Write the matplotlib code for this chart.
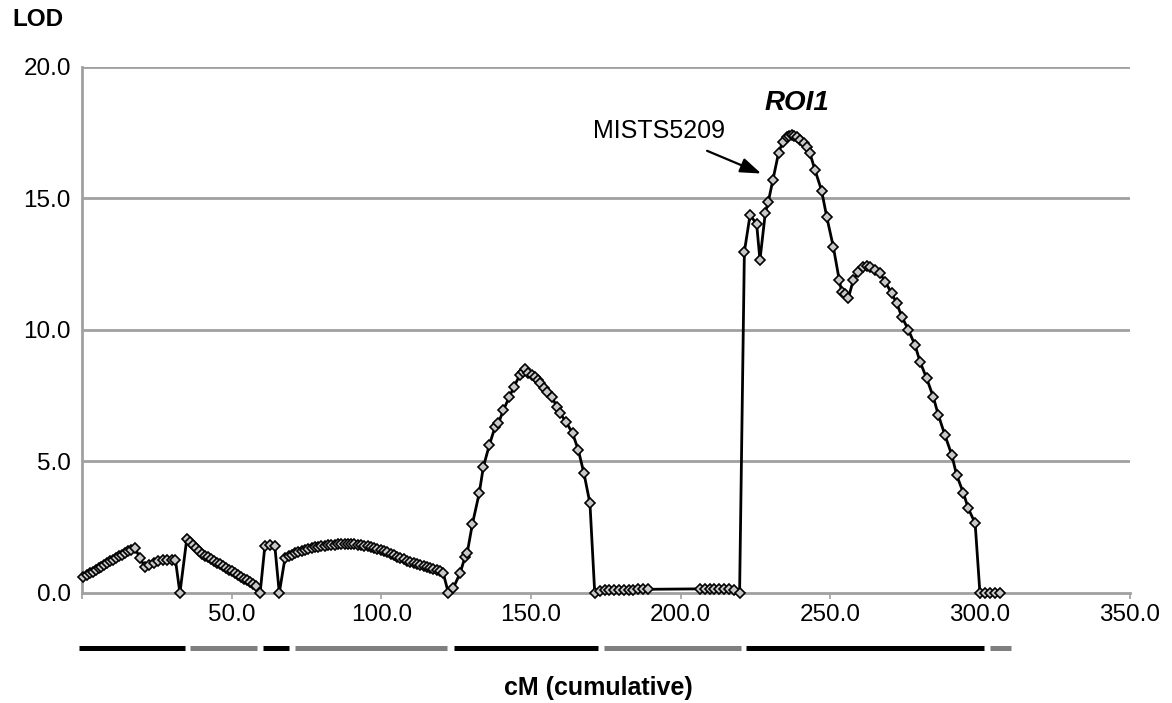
import matplotlib
matplotlib.use('Agg')
import matplotlib.pyplot as plt
import matplotlib.transforms as mtransforms

plt.rcParams['font.family'] = ['Liberation Sans', 'DejaVu Sans']

# LOD scan along the cumulative map (cM, LOD)
cm_pos = [
    0.4, 1.5, 2.5, 3.5, 4.5, 5.5, 6.5, 7.5, 8.5, 9.5, 10.5, 11.5, 12.5, 13.5, 14.5, 15.5, 16.5, 17.6,
    19.4, 21.0, 22.5, 24.0, 25.5, 27.0, 28.5, 30.0, 31.2, 32.7,
    35.0, 36.0, 37.0, 38.0, 39.0, 40.0, 41.0, 42.0, 43.0, 44.0, 45.0, 46.0, 47.0, 48.0, 49.0, 50.0,
    51.0, 52.0, 53.0, 54.0, 55.0, 56.0, 57.0, 58.2, 59.5,
    61.1, 62.8, 64.4, 65.9,
    67.8, 69.0, 70.1, 71.2, 72.3, 73.4, 74.5, 75.6, 76.7, 77.8, 78.9, 80.0, 81.1, 82.2, 83.3, 84.4,
    85.5, 86.6, 87.7, 88.8, 89.9, 91.0, 92.1, 93.2, 94.3, 95.4, 96.5, 97.6, 98.7, 99.8, 100.9, 102.0,
    103.1, 104.2, 105.3, 106.4, 107.5, 108.6, 109.7, 110.8, 111.9, 113.0, 114.1, 115.2, 116.3, 117.4,
    118.5, 119.6, 120.7, 122.4,
    124.0, 126.3, 128.0, 128.7, 130.4, 132.7, 134.1, 136.1, 138.0, 139.1, 140.8, 142.8, 144.3, 146.3,
    147.4, 148.0, 149.1, 150.2, 151.4, 152.3, 153.1, 154.2, 155.3, 157.0, 158.6, 159.7, 161.7, 163.9,
    165.8, 167.7, 169.7, 171.3,
    173.0, 174.6, 176.2, 177.8, 179.4, 181.0, 182.6, 184.2, 185.8, 187.4, 189.0,
    206.5, 208.1, 209.7, 211.3, 212.9, 214.5, 216.1, 217.7, 219.7,
    221.3, 223.2, 225.4, 226.5, 228.3, 229.3, 230.8, 232.7, 234.1, 235.4, 236.3, 237.1, 238.0, 238.8,
    239.9, 241.3, 242.2, 243.2, 244.9, 247.1, 248.8, 251.0, 253.0, 253.8, 254.9, 256.0, 257.7, 259.4,
    261.0, 262.2, 263.3, 264.9, 266.6, 268.3, 270.5, 272.2, 273.9, 276.1, 278.3, 280.0, 282.2, 284.4,
    286.1, 288.3, 290.6, 292.2, 294.5, 296.1, 298.4, 300.0,
    301.7, 303.4, 305.1, 306.8,
]
lod = [
    0.62, 0.68, 0.75, 0.81, 0.88, 0.94, 1.00, 1.07, 1.13, 1.20, 1.26, 1.32, 1.39, 1.45, 1.52, 1.58, 1.65, 1.72,
    1.33, 0.98, 1.08, 1.15, 1.20, 1.24, 1.26, 1.27, 1.26, 0.0,
    2.06, 1.95, 1.84, 1.72, 1.61, 1.50, 1.42, 1.35, 1.29, 1.22, 1.15, 1.09, 1.02, 0.95, 0.89, 0.82,
    0.75, 0.69, 0.62, 0.55, 0.49, 0.42, 0.35, 0.26, 0.0,
    1.80, 1.83, 1.80, 0.0,
    1.32, 1.40, 1.46, 1.52, 1.56, 1.60, 1.64, 1.67, 1.70, 1.73, 1.75, 1.77, 1.79, 1.81, 1.83, 1.84,
    1.85, 1.86, 1.86, 1.86, 1.86, 1.85, 1.84, 1.82, 1.80, 1.78, 1.75, 1.72, 1.68, 1.64, 1.59, 1.54,
    1.49, 1.44, 1.38, 1.33, 1.28, 1.23, 1.18, 1.14, 1.10, 1.06, 1.02, 0.98, 0.94, 0.90,
    0.86, 0.82, 0.75, 0.0,
    0.18, 0.75, 1.38, 1.53, 2.61, 3.79, 4.80, 5.63, 6.32, 6.45, 6.96, 7.46, 7.84, 8.29,
    8.42, 8.50, 8.35, 8.28, 8.22, 8.10, 7.97, 7.80, 7.65, 7.46, 7.08, 6.83, 6.51, 6.07,
    5.44, 4.55, 3.41, 0.0,
    0.08, 0.10, 0.11, 0.12, 0.12, 0.13, 0.13, 0.13, 0.14, 0.14, 0.14,
    0.16, 0.16, 0.16, 0.16, 0.16, 0.16, 0.15, 0.13, 0.0,
    12.98, 14.37, 14.03, 12.66, 14.46, 14.88, 15.70, 16.72, 17.16, 17.33, 17.38, 17.41, 17.38, 17.35,
    17.22, 17.12, 16.95, 16.72, 16.08, 15.30, 14.31, 13.17, 11.90, 11.46, 11.37, 11.20, 11.90, 12.22,
    12.41, 12.45, 12.41, 12.28, 12.16, 11.84, 11.40, 11.01, 10.51, 10.00, 9.43, 8.79, 8.16, 7.46,
    6.77, 6.00, 5.25, 4.49, 3.79, 3.22, 2.65, 0.0,
    0.0, 0.0, 0.0, 0.0,
]

# linkage group bars under the axis
bar_start = [-1.0, 36.0, 60.3, 71.0, 124.2, 174.3, 221.8, 303.2]
bar_end = [34.5, 58.5, 69.3, 122.0, 172.5, 220.3, 301.5, 310.5]
bar_color = ['black', '#7f7f7f', 'black', '#7f7f7f', 'black', '#7f7f7f', 'black', '#7f7f7f']

x_ticks = [0, 50, 100, 150, 200, 250, 300, 350]
x_labels = ['', '50.0', '100.0', '150.0', '200.0', '250.0', '300.0', '350.0']
y_ticks = [0, 5, 10, 15, 20]
y_labels = ['0.0', '5.0', '10.0', '15.0', '20.0']

grid_c = '#a0a0a0'

fig = plt.figure(figsize=(11.72, 7.03), dpi=100)
ax = fig.add_axes([0.07, 0.1565, 0.8938, 0.7482])

for y in y_ticks[1:]:
    ax.axhline(y, color=grid_c, lw=2.0, zorder=1)

ax.plot(cm_pos, lod, color='black', lw=2.0, marker='D', markersize=5,
        markerfacecolor='#c8c8c8', markeredgecolor='black', markeredgewidth=1.2,
        zorder=3, clip_on=False)

ax.set_xlim(0, 350)
ax.set_ylim(0, 20)
ax.set_xticks(x_ticks)
ax.set_xticklabels(x_labels, fontsize=17.5)
ax.set_yticks(y_ticks)
ax.set_yticklabels(y_labels, fontsize=17.5)
ax.tick_params(axis='x', length=4, width=1.2, color=grid_c, pad=4)
ax.tick_params(axis='y', length=0, pad=8)

for side in ['top', 'right']:
    ax.spines[side].set_visible(False)
for side in ['left', 'bottom']:
    ax.spines[side].set_color(grid_c)
    ax.spines[side].set_linewidth(2.0)

trans = mtransforms.blended_transform_factory(ax.transData, ax.transAxes)
for x0, x1, c in zip(bar_start, bar_end, bar_color):
    ax.plot([x0, x1], [-0.1046, -0.1046], color=c, lw=3.6, solid_capstyle='butt',
            transform=trans, clip_on=False)

fig.text(38 / 1172, 1 - 20 / 703, 'LOD', fontsize=17.5, fontweight='bold',
         ha='center', va='center')
fig.text(598 / 1172, 1 - 688 / 703, 'cM (cumulative)', fontsize=18, fontweight='bold',
         ha='center', va='center')

ax.text(239.0, 18.63, 'ROI1', fontsize=20, fontweight='bold', fontstyle='italic',
        ha='center', va='center')
ax.annotate('MISTS5209', xy=(226.9, 15.95), xytext=(192.8, 17.58),
            fontsize=18, ha='center', va='center',
            arrowprops=dict(arrowstyle='-|>,head_length=0.7,head_width=0.25',
                            color='black', lw=1.6, shrinkA=10, shrinkB=0))

fig.savefig('out.png', dpi=100)
